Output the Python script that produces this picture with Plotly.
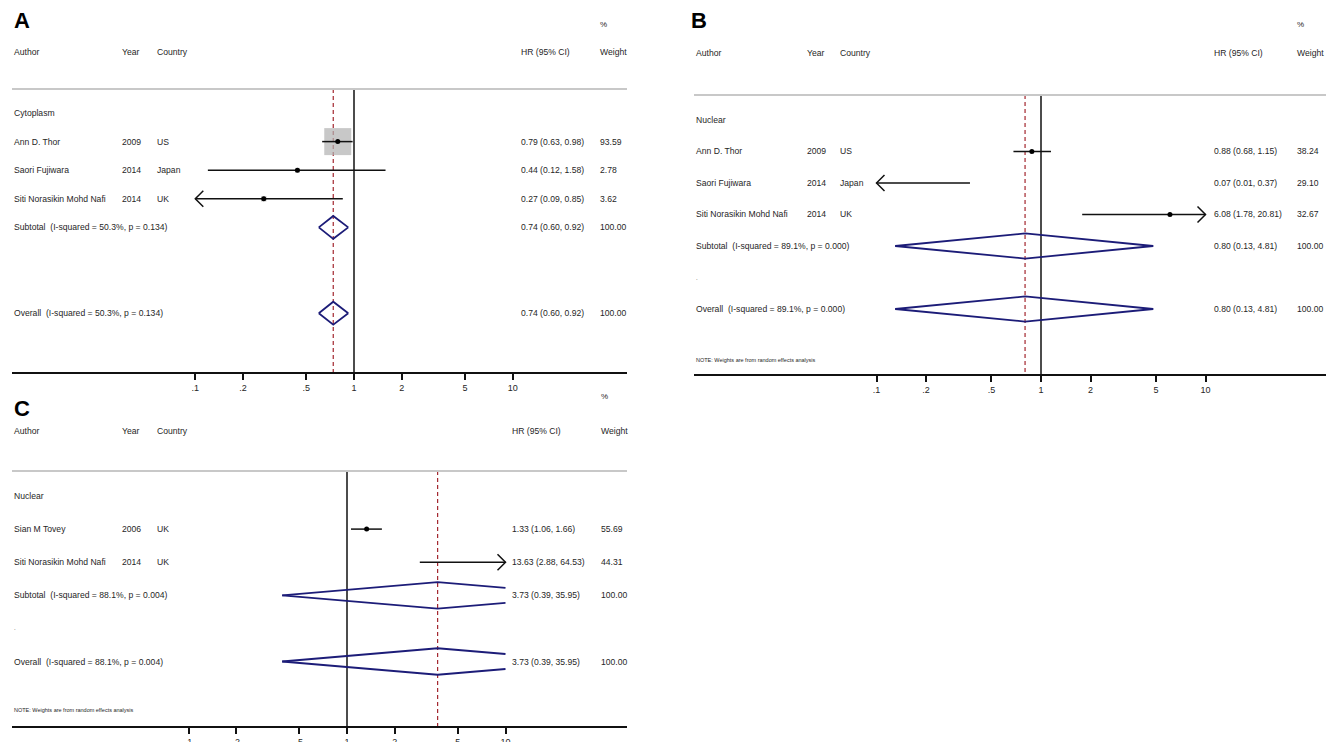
import math
import plotly.graph_objects as go

W, H = 1326, 742

# ---------------- data ----------------
tick_vals = [0.1, 0.2, 0.5, 1, 2, 5, 10]
tick_text = [".1", ".2", ".5", "1", "2", "5", "10"]

a_group = "Cytoplasm"
a_authors = ["Ann D. Thor", "Saori Fujiwara", "Siti Norasikin Mohd Nafi"]
a_years = ["2009", "2014", "2014"]
a_countries = ["US", "Japan", "UK"]
a_hr = [0.79, 0.44, 0.27]
a_lo = [0.63, 0.12, 0.09]
a_hi = [0.98, 1.58, 0.85]
a_weight = [93.59, 2.78, 3.62]
a_pooled = [0.74, 0.60, 0.92]
a_i2 = "50.3"
a_p = "0.134"

b_group = "Nuclear"
b_authors = ["Ann D. Thor", "Saori Fujiwara", "Siti Norasikin Mohd Nafi"]
b_years = ["2009", "2014", "2014"]
b_countries = ["US", "Japan", "UK"]
b_hr = [0.88, 0.07, 6.08]
b_lo = [0.68, 0.01, 1.78]
b_hi = [1.15, 0.37, 20.81]
b_weight = [38.24, 29.10, 32.67]
b_pooled = [0.80, 0.13, 4.81]
b_i2 = "89.1"
b_p = "0.000"

c_group = "Nuclear"
c_authors = ["Sian M Tovey", "Siti Norasikin Mohd Nafi"]
c_years = ["2006", "2014"]
c_countries = ["UK", "UK"]
c_hr = [1.33, 13.63]
c_lo = [1.06, 2.88]
c_hi = [1.66, 64.53]
c_weight = [55.69, 44.31]
c_pooled = [3.73, 0.39, 35.95]
c_i2 = "88.1"
c_p = "0.004"

note_text = "NOTE: Weights are from random effects analysis"

# ---------------- style ----------------
FONT = "Liberation Sans, Arial, sans-serif"
TXT = "#262626"
FS = 8.6
NAVY = "#1c1c78"
RED = "#a3262e"

panels = [
    dict(letter="A", group=a_group, authors=a_authors, years=a_years, countries=a_countries,
         hr=a_hr, lo=a_lo, hi=a_hi, weight=a_weight, pooled=a_pooled, i2=a_i2, p=a_p,
         geo=dict(x0=12, x1=627, one=354, dec=158.7, ytop=89, ybot=372, row0=113, step=28.6,
                  letter_xy=(12, 21), pct_y=25, head_y=52, cols=(12, 120, 155, 519, 598),
                  overall_row=7, note_y=None, dot=False, box=True)),
    dict(letter="B", group=b_group, authors=b_authors, years=b_years, countries=b_countries,
         hr=b_hr, lo=b_lo, hi=b_hi, weight=b_weight, pooled=b_pooled, i2=b_i2, p=b_p,
         geo=dict(x0=694, x1=1326, one=1041, dec=164.5, ytop=95, ybot=374, row0=120, step=31.5,
                  letter_xy=(689, 21), pct_y=25, head_y=53, cols=(694, 805, 838, 1212, 1295),
                  overall_row=6, note_y=360, dot=True, box=False)),
    dict(letter="C", group=c_group, authors=c_authors, years=c_years, countries=c_countries,
         hr=c_hr, lo=c_lo, hi=c_hi, weight=c_weight, pooled=c_pooled, i2=c_i2, p=c_p,
         geo=dict(x0=12, x1=627, one=347, dec=158.5, ytop=471, ybot=726, row0=496, step=33.1,
                  letter_xy=(12, 408), pct_y=397, head_y=431, cols=(12, 120, 155, 510, 599),
                  overall_row=5, note_y=710, dot=True, box=False)),
]

fig = go.Figure()
annotations = []
shapes = []
layout_axes = {}

LMIN, LMAX = math.log10(tick_vals[0]), math.log10(tick_vals[-1])


def clip_poly(lx, ly):
    """clip polyline given in log-x to [LMIN, LMAX]; returns lists with None gaps"""
    ox, oy = [], []
    for i in range(len(lx) - 1):
        x0, y0, x1, y1 = lx[i], ly[i], lx[i + 1], ly[i + 1]
        dx = x1 - x0
        if dx == 0:
            if LMIN <= x0 <= LMAX:
                seg = [(x0, y0), (x1, y1)]
            else:
                continue
        else:
            ta, tb = (LMIN - x0) / dx, (LMAX - x0) / dx
            tl, th = max(0, min(ta, tb)), min(1, max(ta, tb))
            if tl > th:
                continue
            seg = [(x0 + tl * dx, y0 + tl * (y1 - y0)), (x0 + th * dx, y0 + th * (y1 - y0))]
        if ox and ox[-1] is not None and abs(ox[-1] - seg[0][0]) < 1e-9 and abs(oy[-1] - seg[0][1]) < 1e-9:
            ox.append(seg[1][0]); oy.append(seg[1][1])
        else:
            if ox:
                ox.append(None); oy.append(None)
            ox += [seg[0][0], seg[1][0]]; oy += [seg[0][1], seg[1][1]]
    return [None if v is None else 10 ** v for v in ox], oy


for n, pan in enumerate(panels, start=1):
    g = pan["geo"]
    xs = "" if n == 1 else str(n)
    xref, yref = "x" + xs, "y" + xs
    # axis geometry
    lrange = [(g["x0"] - g["one"]) / g["dec"], (g["x1"] - g["one"]) / g["dec"]]
    idx = lambda py: (py - g["row0"]) / g["step"]
    top_i, bot_i = idx(g["ytop"]), idx(g["ybot"])
    layout_axes["xaxis" + xs] = dict(
        type="log", range=lrange, domain=[g["x0"] / W, min(1, g["x1"] / W)], anchor=yref,
        tickvals=tick_vals, ticktext=tick_text, showgrid=False, zeroline=False,
        showline=True, linecolor="#111111", linewidth=2, ticks="outside", ticklen=6,
        tickwidth=1.5, tickcolor="#111111", tickfont=dict(family=FONT, size=9, color=TXT),
        automargin=False, fixedrange=True)
    layout_axes["yaxis" + xs] = dict(
        range=[bot_i, top_i], domain=[1 - g["ybot"] / H, 1 - g["ytop"] / H], anchor=xref,
        visible=False, automargin=False, fixedrange=True)

    # gray header rule
    shapes.append(dict(type="line", xref=xref + " domain", yref=yref + " domain",
                       x0=0, x1=1, y0=1, y1=1, line=dict(color="#c8c8c8", width=2)))

    # vertical null line and pooled dashed line
    fig.add_trace(go.Scatter(x=[1, 1], y=[top_i, bot_i], mode="lines", xaxis=xref, yaxis=yref,
                             line=dict(color="#111111", width=1.5), hoverinfo="skip", showlegend=False))
    est, plo, phi = pan["pooled"]
    fig.add_trace(go.Scatter(x=[est, est], y=[top_i, bot_i], mode="lines", xaxis=xref, yaxis=yref,
                             line=dict(color=RED, width=1.2, dash="4px,3px"), hoverinfo="skip",
                             showlegend=False))

    ax_log = 8 / g["dec"]
    ay = 8 / g["step"]
    nst = len(pan["authors"])

    # boxes
    if g["box"]:
        k = 27 / math.sqrt(max(pan["weight"]))
        fig.add_trace(go.Scatter(
            x=pan["hr"], y=list(range(1, nst + 1)), mode="markers", xaxis=xref, yaxis=yref,
            marker=dict(symbol="square", size=[k * math.sqrt(w) for w in pan["weight"]],
                        color="#b0b0b0", line=dict(width=0)),
            hoverinfo="skip", showlegend=False))

    # CI lines with arrows
    for i in range(nst):
        row = i + 1
        lo, hi, hr = pan["lo"][i], pan["hi"][i], pan["hr"][i]
        cl, ch = max(lo, tick_vals[0]), min(hi, tick_vals[-1])
        lx, ly = [cl, ch], [row, row]
        if lo < tick_vals[0]:
            t = math.log10(cl)
            lx += [None, 10 ** (t + ax_log), cl, 10 ** (t + ax_log)]
            ly += [None, row - ay, row, row + ay]
        if hi > tick_vals[-1]:
            t = math.log10(ch)
            lx += [None, 10 ** (t - ax_log), ch, 10 ** (t - ax_log)]
            ly += [None, row - ay, row, row + ay]
        fig.add_trace(go.Scatter(x=lx, y=ly, mode="lines", xaxis=xref, yaxis=yref,
                                 line=dict(color="#111111", width=1.5), hoverinfo="skip",
                                 showlegend=False))
        if tick_vals[0] <= hr <= tick_vals[-1]:
            fig.add_trace(go.Scatter(x=[hr], y=[row], mode="markers", xaxis=xref, yaxis=yref,
                                     marker=dict(color="#000000", size=5), hoverinfo="skip",
                                     showlegend=False))

    # diamonds (subtotal & overall)
    sub_row = nst + 1
    ov_row = g["overall_row"]
    for row in (sub_row, ov_row):
        L, E, R = math.log10(plo), math.log10(est), math.log10(phi)
        h = 0.4
        dx, dy = [], []
        for sgn in (-1, 1):
            px, py = clip_poly([L, E, R], [row, row + sgn * h, row])
            if dx:
                dx.append(None); dy.append(None)
            dx += px; dy += py
        fig.add_trace(go.Scatter(x=dx, y=dy, mode="lines", xaxis=xref, yaxis=yref,
                                 line=dict(color=NAVY, width=1.8), hoverinfo="skip",
                                 showlegend=False))

    # ---------- text ----------
    cA, cY, cC, cH, cW = g["cols"]

    def txt(px, y, s, yr=yref, size=FS, color=TXT, fam=FONT, bold=False):
        annotations.append(dict(
            x=px / W, xref="paper", y=y, yref=yr, text=("<b>%s</b>" % s) if bold else s,
            showarrow=False, xanchor="left", yanchor="middle",
            font=dict(family=fam, size=size, color=color)))

    lx_, ly_ = g["letter_xy"]
    txt(lx_, 1 - ly_ / H, pan["letter"], yr="paper", size=22, color="#000000",
        fam="Liberation Sans, Arial, sans-serif", bold=True)
    txt(cW, 1 - g["pct_y"] / H, "%", yr="paper", size=8)
    hy = 1 - g["head_y"] / H
    txt(cA, hy, "Author", yr="paper")
    txt(cY, hy, "Year", yr="paper")
    txt(cC, hy, "Country", yr="paper")
    txt(cH, hy, "HR (95% CI)", yr="paper")
    txt(cW, hy, "Weight", yr="paper")

    txt(cA, 0, pan["group"])
    for i in range(nst):
        row = i + 1
        txt(cA, row, pan["authors"][i])
        txt(cY, row, pan["years"][i])
        txt(cC, row, pan["countries"][i])
        txt(cH, row, "%.2f (%.2f, %.2f)" % (pan["hr"][i], pan["lo"][i], pan["hi"][i]))
        txt(cW, row, "%.2f" % pan["weight"][i])
    pooled_txt = "%.2f (%.2f, %.2f)" % (est, plo, phi)
    txt(cA, sub_row, "Subtotal  (I-squared = %s%%, p = %s)" % (pan["i2"], pan["p"]))
    txt(cH, sub_row, pooled_txt)
    txt(cW, sub_row, "%.2f" % 100.0)
    if g["dot"]:
        txt(cA, sub_row + 1, ".", size=6)
    txt(cA, ov_row, "Overall  (I-squared = %s%%, p = %s)" % (pan["i2"], pan["p"]))
    txt(cH, ov_row, pooled_txt)
    txt(cW, ov_row, "%.2f" % 100.0)
    if g["note_y"] is not None:
        txt(cA, idx(g["note_y"]), note_text, size=5.5)

fig.update_layout(
    width=W, height=H, margin=dict(l=0, r=0, t=0, b=0, autoexpand=False),
    paper_bgcolor="white", plot_bgcolor="rgba(0,0,0,0)",
    showlegend=False, annotations=annotations, shapes=shapes,
    font=dict(family=FONT, size=FS, color=TXT),
    **layout_axes)

fig.write_html("out.html", config=dict(displayModeBar=False),
               post_script="document.body.style.margin='0px';document.body.style.overflow='hidden';")
